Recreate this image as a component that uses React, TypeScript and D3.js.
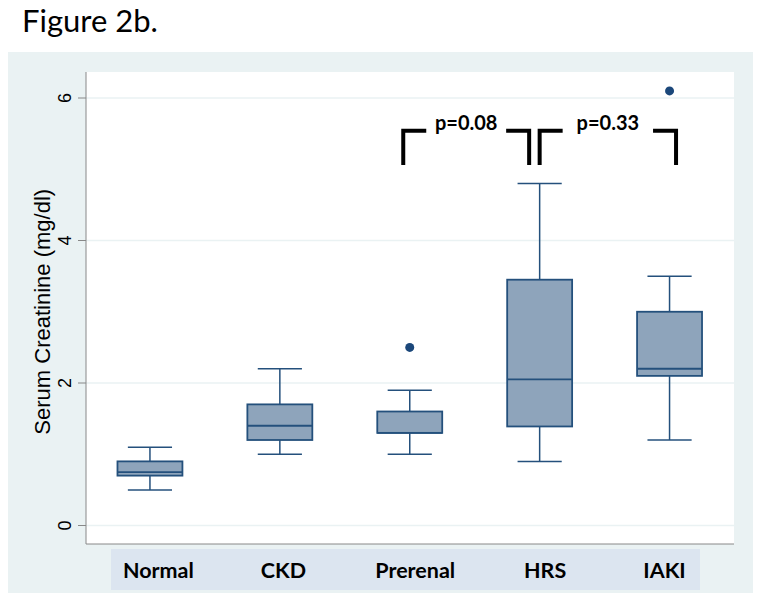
import React from "react";
import * as d3 from "d3";

const categories = ["Normal", "CKD", "Prerenal", "HRS", "IAKI"];
const lowerWhisker = [0.5, 1.0, 1.0, 0.9, 1.2];
const q1 = [0.7, 1.2, 1.3, 1.39, 2.1];
const median = [0.75, 1.4, 1.3, 2.05, 2.2];
const q3 = [0.9, 1.7, 1.6, 3.45, 3.0];
const upperWhisker = [1.1, 2.2, 1.9, 4.8, 3.5];
const outlierCats = ["Prerenal", "IAKI"];
const outlierVals = [2.5, 6.1];
const yTicks = [0, 2, 4, 6];
const pLabels = ["p=0.08", "p=0.33"];
const pFrom = ["Prerenal", "HRS"];
const pTo = ["HRS", "IAKI"];

// layout constants
const W = 762;
const H = 603;
const plotL = 86;
const plotR = 734;
const plotT = 72;
const plotB = 544;
const labelDx = [8.5, 3.5, 5.5, 5.5, -5];

export default function App() {
  const x = d3.scaleBand<string>().domain(categories).range([85, 734.5]).padding(0);
  const y = d3.scaleLinear().domain([0, 6]).range([525.5, 98]);
  const bw = x.bandwidth();
  const boxW = bw * 0.5;
  const capW = bw * 0.34;
  const cx = (c: string) => (x(c) as number) + bw / 2;

  const boxStroke = "#24507c";
  const boxFill = "#8ea4bb";
  const bg = "#eaf2f3";

  const brTop = y(5.54);
  const brBot = y(5.06);

  return (
    <svg width={W} height={H} style={{ position: "absolute", left: 0, top: 0 }}>
      <rect x={0} y={0} width={W} height={H} fill="#ffffff" />
      <text x={22} y={32} fontFamily="Lato" fontSize={31} fill="#000">
        Figure 2b.
      </text>
      <rect x={8} y={52} width={745} height={541} fill={bg} />
      <rect x={plotL} y={plotT} width={plotR - plotL} height={plotB - plotT} fill="#ffffff" />
      {yTicks.map((t) => (
        <line key={"g" + t} x1={plotL} x2={plotR} y1={y(t)} y2={y(t)} stroke={bg} strokeWidth={1.5} />
      ))}
      <line x1={plotL} x2={plotL} y1={plotT} y2={plotB} stroke="#888" strokeWidth={1} />
      <line x1={plotL} x2={plotR} y1={plotB} y2={plotB} stroke="#888" strokeWidth={1} />
      {yTicks.map((t) => (
        <g key={"t" + t}>
          <line x1={78} x2={plotL} y1={y(t)} y2={y(t)} stroke="#888" strokeWidth={1} />
          <text
            transform={`translate(71,${y(t)}) rotate(-90)`}
            textAnchor="middle"
            fontFamily="Liberation Sans, Arial"
            fontSize={18}
            fill="#000"
          >
            {t}
          </text>
        </g>
      ))}
      <text
        transform={`translate(50,${(y(4) + y(2)) / 2}) rotate(-90)`}
        textAnchor="middle"
        fontFamily="Liberation Sans, Arial"
        fontSize={22}
        fill="#000"
      >
        Serum Creatinine (mg/dl)
      </text>
      <rect x={111} y={549} width={589} height={41} fill="#dce5f0" />
      {categories.map((c, i) => (
        <text
          key={"c" + c}
          x={cx(c) + labelDx[i]}
          y={578}
          textAnchor="middle"
          fontFamily="Lato"
          fontWeight="bold"
          fontSize={21.5}
          fill="#000"
        >
          {c}
        </text>
      ))}
      {categories.map((c, i) => {
        const m = cx(c);
        return (
          <g key={"b" + c}>
            <line x1={m} x2={m} y1={y(upperWhisker[i])} y2={y(q3[i])} stroke={boxStroke} strokeWidth={1.5} />
            <line x1={m} x2={m} y1={y(q1[i])} y2={y(lowerWhisker[i])} stroke={boxStroke} strokeWidth={1.5} />
            <line x1={m - capW / 2} x2={m + capW / 2} y1={y(upperWhisker[i])} y2={y(upperWhisker[i])} stroke={boxStroke} strokeWidth={1.5} />
            <line x1={m - capW / 2} x2={m + capW / 2} y1={y(lowerWhisker[i])} y2={y(lowerWhisker[i])} stroke={boxStroke} strokeWidth={1.5} />
            <rect
              x={m - boxW / 2}
              y={y(q3[i])}
              width={boxW}
              height={y(q1[i]) - y(q3[i])}
              fill={boxFill}
              stroke={boxStroke}
              strokeWidth={1.8}
            />
            <line x1={m - boxW / 2} x2={m + boxW / 2} y1={y(median[i])} y2={y(median[i])} stroke={boxStroke} strokeWidth={1.8} />
          </g>
        );
      })}
      {outlierVals.map((v, i) => (
        <circle key={"o" + i} cx={cx(outlierCats[i])} cy={y(v)} r={4.5} fill="#1b477a" />
      ))}
      {pLabels.map((p, i) => {
        const a = cx(pFrom[i]) + (i === 0 ? -6.5 : 0);
        const b = cx(pTo[i]) + (i === 0 ? -10.5 : 6.5);
        const mid = (a + b) / 2;
        return (
          <g key={"p" + i}>
            <path
              d={`M${a},${brBot}V${brTop}H${a + 23}`}
              fill="none"
              stroke="#000"
              strokeWidth={4}
            />
            <path
              d={`M${b - 23},${brTop}H${b}V${brBot}`}
              fill="none"
              stroke="#000"
              strokeWidth={4}
            />
            <text x={mid} y={130} textAnchor="middle" fontFamily="Lato" fontWeight="bold" fontSize={20} fill="#000">
              {p}
            </text>
          </g>
        );
      })}
    </svg>
  );
}
